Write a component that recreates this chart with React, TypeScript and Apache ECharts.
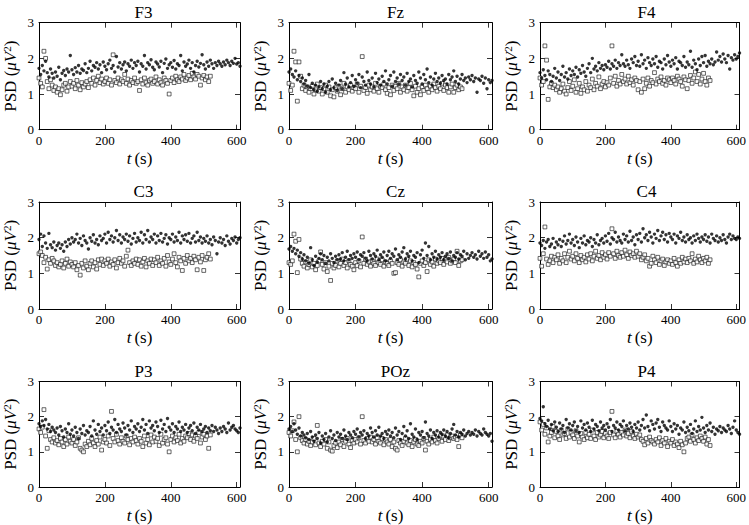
import React, { useEffect, useRef } from "react";
import * as echarts from "echarts";

// sampling step of the hand-read points (seconds)
const T_STEP = 5;

const X_TICKS = [0, 200, 400, 600];
const Y_TICKS = [0, 1, 2, 3];

const TITLES = ["F3", "Fz", "F4", "C3", "Cz", "C4", "P3", "POz", "P4"];

// ---- filled dots (t = 0..610 s) and open squares (t = 0..520 s) ----
const F3_DOTS = [
  1.72,1.55,1.80,1.65,1.92,1.60,1.48,1.70,1.58,1.45,
  1.62,1.50,1.75,1.40,1.58,1.66,1.52,1.70,1.62,2.08,
  1.68,1.55,1.74,1.62,1.80,1.58,1.70,1.66,1.85,1.60,
  1.72,1.92,1.65,1.80,1.75,1.88,1.70,1.82,1.60,1.90,
  1.78,1.68,1.85,1.95,1.72,1.80,1.62,2.05,1.76,1.88,
  1.70,1.82,1.90,1.65,1.85,1.78,1.95,1.72,1.88,1.80,
  1.92,1.62,1.85,1.78,2.08,1.70,1.88,1.82,1.96,1.75,
  1.68,1.90,1.84,1.76,1.92,1.60,1.86,1.98,1.72,1.82,
  1.88,1.75,1.94,1.70,1.85,1.80,2.08,1.65,1.90,1.78,
  1.84,1.95,1.72,1.88,1.62,1.80,1.92,1.76,1.86,2.10,
  1.82,1.70,1.90,1.78,1.95,1.85,1.72,1.88,1.80,1.92,
  1.85,1.78,1.90,1.82,1.95,1.88,1.80,1.92,1.86,2.00,
  1.84,1.88,1.78,
];
const F3_SQUARES = [
  1.45,1.30,1.20,2.20,2.00,1.35,1.15,1.40,1.25,1.10,
  1.20,1.05,1.15,0.98,1.12,1.25,1.30,1.08,1.20,1.35,
  1.22,1.30,1.15,1.38,1.25,1.12,1.32,1.20,1.28,1.35,
  1.18,1.40,1.30,1.45,1.25,1.38,1.50,1.32,1.42,1.28,
  1.35,1.45,1.30,1.40,1.25,2.10,1.38,1.32,1.45,1.28,
  1.40,1.35,1.55,1.30,1.42,1.25,1.38,1.32,1.45,1.30,
  1.35,1.10,1.40,1.28,1.45,1.32,1.25,1.38,1.42,1.30,
  1.35,1.48,1.28,1.40,1.32,1.25,1.45,1.38,1.30,1.00,
  1.38,1.45,1.32,1.50,1.40,1.35,1.48,1.42,1.55,1.38,
  1.45,1.52,1.40,1.58,1.48,1.42,1.55,1.50,1.25,1.45,
  1.52,1.40,1.48,1.35,1.50,
];

const FZ_DOTS = [
  1.62,1.70,1.55,1.48,1.65,1.40,1.52,1.35,1.45,1.28,
  1.38,1.22,1.55,1.18,1.30,1.12,1.25,1.08,1.20,1.35,
  1.15,1.28,1.05,1.22,1.35,1.12,1.42,1.18,1.30,1.10,
  1.25,1.38,1.15,1.60,1.28,1.45,1.20,1.32,1.52,1.22,
  1.40,1.30,1.55,1.18,1.48,1.35,1.25,1.62,1.38,1.28,
  1.45,1.20,1.58,1.32,1.42,1.25,1.50,1.35,1.65,1.28,
  1.40,1.52,1.22,1.62,1.35,1.45,1.28,1.55,1.38,1.48,
  1.25,1.58,1.35,1.42,1.20,1.52,1.38,1.30,1.62,1.45,
  1.28,1.55,1.40,1.70,1.32,1.48,1.25,1.42,1.58,1.35,
  1.45,1.30,1.52,1.38,1.42,1.28,1.55,1.40,1.48,1.65,
  1.35,1.50,1.28,1.42,1.55,1.38,1.45,1.32,1.48,1.40,
  1.52,1.35,1.45,1.05,1.42,1.38,1.50,1.30,1.45,1.15,
  1.40,1.32,1.38,
];
const FZ_SQUARES = [
  1.30,1.10,1.25,2.20,1.90,0.80,1.90,1.50,1.15,1.25,
  1.10,1.20,1.05,1.15,1.22,1.00,1.12,1.28,1.08,1.18,
  1.00,1.15,1.25,1.05,1.20,0.95,1.12,0.92,1.18,1.08,
  1.22,0.98,1.15,1.30,1.05,1.20,1.12,1.25,1.08,1.18,
  1.15,1.28,1.05,1.22,2.05,1.10,1.18,1.02,1.25,1.12,
  1.20,1.08,1.30,1.15,1.05,1.22,1.18,1.28,1.12,1.02,
  1.18,0.98,1.25,1.10,1.22,1.15,1.30,1.05,1.20,1.12,
  1.25,1.08,1.18,1.30,1.12,0.95,1.22,1.05,1.15,0.98,
  1.20,1.10,1.25,1.15,1.05,1.22,1.12,1.28,1.18,1.08,
  1.22,1.15,1.30,1.10,1.25,1.18,1.05,1.20,1.28,1.05,
  1.18,1.25,1.12,1.20,1.15,
];

const F4_DOTS = [
  1.60,1.45,1.68,1.52,1.40,1.65,1.55,1.35,1.50,1.72,
  1.45,1.62,1.38,1.55,1.78,1.48,1.60,1.42,1.70,1.52,
  1.65,1.55,1.75,1.48,1.68,1.58,1.80,1.62,1.50,1.72,
  1.85,1.60,2.00,1.70,1.78,1.65,1.88,1.72,1.80,1.68,
  1.82,1.75,1.92,1.70,1.85,1.78,1.95,1.72,1.88,1.80,
  2.10,1.85,1.78,1.95,1.82,1.72,1.98,1.88,2.05,1.80,
  1.92,1.78,2.10,1.85,1.95,1.72,2.02,1.88,1.80,1.98,
  1.85,2.05,1.75,1.92,1.88,1.70,1.98,1.82,2.08,1.90,
  1.78,1.95,1.85,2.02,1.70,1.92,1.88,1.80,2.05,1.75,
  1.90,1.82,2.20,1.75,1.95,1.85,1.68,1.98,1.80,2.05,
  1.88,2.08,1.78,1.92,1.85,1.98,1.82,1.90,2.18,1.95,
  2.05,1.90,2.12,1.98,1.88,2.08,1.70,2.02,1.95,2.10,
  1.98,2.05,2.15,
];
const F4_SQUARES = [
  1.45,1.25,1.35,2.35,1.95,0.85,1.20,1.30,1.18,1.25,
  1.12,1.20,1.05,1.15,1.28,1.08,1.00,1.18,1.35,1.10,
  1.22,1.40,1.05,1.15,1.30,1.02,1.20,1.12,1.35,1.08,
  1.25,1.18,1.42,1.12,1.30,1.22,1.48,1.15,1.28,1.35,
  1.20,1.32,1.25,1.45,2.35,1.30,1.50,1.22,1.38,1.28,
  1.55,1.35,1.42,1.28,1.50,1.32,1.40,1.25,1.45,1.38,
  1.12,1.35,1.05,1.42,1.15,1.30,1.45,1.22,1.38,1.32,
  1.60,1.28,1.42,1.35,1.48,1.30,1.38,1.25,1.45,1.40,
  1.32,1.45,1.38,1.28,1.50,1.42,1.35,1.22,1.48,1.40,
  1.15,1.38,1.52,1.30,1.45,1.62,1.35,1.55,1.28,1.42,
  1.58,1.35,1.25,1.45,1.38,
];

const C3_DOTS = [
  1.95,2.10,1.75,2.05,1.85,1.70,2.12,1.80,1.72,1.88,
  1.65,1.78,1.85,1.70,1.80,1.62,1.88,1.75,1.95,1.82,
  2.00,1.88,1.95,2.10,1.85,1.98,1.78,2.05,1.92,1.85,
  1.68,2.00,1.90,2.08,1.85,1.95,1.80,2.05,1.92,1.98,
  2.10,1.85,2.15,1.95,2.05,1.88,2.00,2.20,1.92,2.08,
  1.85,2.02,1.95,2.10,1.90,2.05,1.82,1.98,2.12,1.88,
  2.00,1.92,2.15,1.85,2.08,1.95,2.20,1.88,2.02,1.95,
  2.10,1.85,2.05,1.92,2.12,1.88,1.98,2.08,1.82,2.00,
  1.95,2.10,1.88,2.02,1.92,2.15,1.85,2.05,1.95,2.08,
  1.90,2.12,1.85,1.98,2.05,1.88,2.15,1.92,2.02,1.85,
  1.98,1.90,2.05,1.85,1.95,1.80,2.02,1.92,1.55,1.88,
  2.00,1.85,1.95,1.78,2.05,1.90,1.82,1.98,1.92,2.02,
  1.85,1.95,2.00,
];
const C3_SQUARES = [
  1.55,1.60,1.50,1.30,1.45,1.12,1.38,1.28,1.42,1.35,
  1.22,1.30,1.18,1.25,1.35,1.15,1.28,1.40,1.20,1.32,
  1.25,1.18,1.30,1.10,1.22,0.95,1.28,1.15,1.35,1.20,
  1.10,1.28,1.35,1.18,1.30,1.12,1.38,1.25,1.40,1.22,
  1.35,1.28,1.40,1.20,1.32,1.25,1.38,1.15,1.30,1.42,
  1.28,1.35,1.20,1.48,1.65,1.30,1.22,1.35,1.28,1.40,
  1.25,1.38,1.20,1.32,1.42,1.18,1.35,1.28,1.40,1.22,
  1.38,1.30,1.45,1.22,1.35,1.28,1.42,1.20,1.50,1.32,
  1.25,1.40,1.55,1.30,1.18,1.45,1.35,1.08,1.42,1.28,
  1.50,1.35,1.42,1.30,1.48,1.38,1.10,1.45,1.32,1.50,
  1.08,1.38,1.45,1.55,1.40,
];

const CZ_DOTS = [
  1.68,1.75,1.62,1.70,1.55,1.65,1.48,1.58,1.40,1.52,
  1.35,1.45,1.28,1.72,1.38,1.22,1.48,1.32,1.42,1.55,
  1.38,1.50,1.28,1.45,1.35,1.55,1.42,1.30,1.48,1.38,
  1.52,1.40,1.58,1.35,1.45,1.62,1.38,1.50,1.42,1.55,
  1.45,1.60,1.38,1.52,1.48,1.58,1.42,1.35,1.62,1.50,
  1.40,1.55,1.48,1.65,1.38,1.52,1.45,1.60,1.35,1.50,
  1.62,1.42,1.55,1.48,1.68,1.38,1.52,1.45,1.60,1.72,
  1.40,1.55,1.48,1.62,1.35,1.50,1.45,1.58,1.30,1.52,
  1.65,1.42,1.85,1.50,1.75,1.38,1.55,1.45,1.62,1.40,
  1.52,1.45,1.58,1.38,1.48,1.55,1.42,1.60,1.35,1.50,
  1.45,1.58,1.40,1.52,1.48,1.62,1.38,1.55,1.42,1.50,
  1.58,1.45,1.52,1.40,1.62,1.48,1.55,1.42,1.60,1.45,
  1.52,1.35,1.40,
];
const CZ_SQUARES = [
  1.30,1.25,1.35,2.10,1.90,1.02,1.95,1.40,1.28,1.20,
  1.32,1.15,1.25,1.38,1.18,1.28,1.10,1.22,1.35,1.60,
  1.25,1.12,1.30,1.05,1.20,0.80,1.28,1.15,1.22,1.35,
  1.18,1.28,1.40,1.22,1.30,1.15,1.35,1.25,1.20,1.10,
  1.30,1.22,1.35,1.18,2.02,1.28,1.40,1.25,1.32,1.20,
  1.35,1.28,1.22,1.40,1.30,1.25,1.38,1.20,1.32,1.28,
  1.22,1.35,1.28,1.00,1.02,1.30,1.25,1.38,1.20,1.32,
  1.28,1.40,1.22,1.35,1.18,1.30,1.25,1.12,0.90,1.28,
  1.35,1.22,1.30,1.05,1.38,1.25,1.32,1.20,1.40,1.28,
  1.35,1.30,1.42,1.25,1.38,1.32,1.45,1.28,1.35,1.40,
  1.30,1.62,1.22,1.35,1.38,
];

const C4_DOTS = [
  1.85,1.78,1.92,1.70,1.88,1.95,1.75,1.82,1.98,1.72,
  1.88,1.80,1.95,1.75,1.90,2.05,1.82,1.92,2.10,1.85,
  1.95,1.78,2.02,1.88,1.72,1.98,1.85,2.05,1.80,1.92,
  1.88,2.00,1.75,1.95,1.85,2.08,1.80,1.92,1.98,1.85,
  2.05,1.90,2.12,1.82,2.00,1.95,2.15,1.88,2.02,1.92,
  1.85,2.10,1.95,2.05,1.88,2.18,1.92,2.02,1.80,2.08,
  1.95,2.12,1.88,2.25,2.00,2.08,1.92,2.15,2.02,1.85,
  2.10,1.98,2.20,1.92,2.05,2.15,1.95,2.08,1.88,2.12,
  2.02,1.95,2.10,1.85,2.05,1.98,2.15,1.92,2.02,1.88,
  2.08,1.95,2.00,1.85,2.05,1.92,2.10,1.98,1.88,2.02,
  1.95,2.08,1.90,2.02,1.85,2.10,1.98,1.92,2.05,1.88,
  2.00,1.92,2.08,1.95,1.85,2.02,2.10,1.95,2.05,1.98,
  1.95,2.02,1.98,
];
const C4_SQUARES = [
  1.42,1.20,1.55,2.30,1.40,1.25,1.35,1.48,1.30,1.45,
  1.38,1.52,1.28,1.42,1.35,1.55,1.30,1.45,1.62,1.40,
  1.48,1.35,1.55,1.42,1.30,1.50,1.38,1.45,1.32,1.52,
  1.40,1.55,1.35,1.48,1.62,1.42,1.50,1.38,1.58,1.45,
  1.52,1.40,1.58,1.48,2.25,1.55,1.42,1.62,1.50,1.45,
  1.58,1.48,1.65,1.52,1.42,1.60,1.50,1.55,1.45,1.62,
  1.48,1.55,1.38,1.45,1.52,1.35,1.42,1.20,1.28,1.48,
  1.38,1.30,1.45,1.25,1.35,1.40,1.22,1.32,1.38,1.28,
  1.35,1.25,1.42,1.30,1.20,1.38,1.28,1.45,1.32,1.40,
  1.30,1.42,1.35,1.55,1.28,1.40,1.32,1.48,1.38,1.30,
  1.42,1.35,1.45,1.28,1.38,
];

const P3_DOTS = [
  1.80,1.72,1.88,1.75,1.92,1.65,1.78,1.58,1.70,1.62,
  1.55,1.68,1.48,1.72,1.60,1.42,1.65,1.55,1.80,1.50,
  1.62,1.45,1.70,1.55,1.38,1.65,1.52,1.75,1.48,1.60,
  1.55,1.72,1.45,1.88,1.62,1.50,1.78,1.58,1.68,1.48,
  1.75,1.60,1.85,1.52,1.70,1.62,1.92,1.55,1.78,1.65,
  1.58,1.82,1.68,1.48,1.75,1.62,1.88,1.55,1.72,1.65,
  1.80,1.58,1.70,1.92,1.62,1.78,1.52,1.88,1.68,1.75,
  1.60,1.85,1.72,1.55,1.90,1.65,1.78,1.58,1.95,1.70,
  1.62,1.80,1.55,1.72,1.65,1.85,1.58,1.70,1.62,1.78,
  1.55,1.68,1.75,1.60,1.82,1.52,1.70,1.62,1.78,1.58,
  1.65,1.72,1.55,1.68,1.60,1.75,1.58,1.70,1.62,1.52,
  1.68,1.58,1.72,1.65,1.55,1.82,1.62,1.70,1.75,1.65,
  1.60,1.55,1.68,
];
const P3_SQUARES = [
  1.65,1.55,1.70,2.20,1.45,1.10,1.60,1.35,1.28,1.40,
  1.25,1.32,1.20,1.38,1.28,1.15,1.35,1.22,1.42,1.30,
  1.25,1.35,1.18,1.28,1.40,1.10,1.05,1.00,1.22,1.15,
  1.30,1.20,1.38,1.25,1.15,1.32,1.22,1.42,1.05,1.28,
  1.35,1.25,1.45,1.18,2.15,1.38,1.28,1.50,1.32,1.22,
  1.40,1.30,1.25,1.45,1.35,1.20,1.38,1.28,1.42,1.32,
  1.22,1.38,1.30,1.15,1.45,1.25,1.35,1.20,1.48,1.28,
  1.42,1.30,1.38,1.18,1.50,1.25,1.35,1.40,1.22,1.00,
  1.35,1.45,1.28,1.40,1.32,1.50,1.25,1.38,1.30,1.45,
  1.40,1.52,1.35,1.48,1.30,1.45,1.38,1.55,1.25,1.42,
  1.50,1.35,1.45,1.10,1.48,
];

const POZ_DOTS = [
  1.65,1.72,1.58,1.80,1.62,1.50,1.68,1.45,1.55,1.48,
  1.40,1.52,1.35,1.58,1.42,1.30,1.48,1.38,1.55,1.25,
  1.45,1.35,1.52,1.28,1.42,1.60,1.38,1.48,1.32,1.55,
  1.42,1.50,1.38,1.62,1.45,1.35,1.55,1.48,1.40,1.58,
  1.50,1.65,1.42,1.55,1.48,1.60,1.38,1.52,1.45,1.68,
  1.55,1.42,1.60,1.48,1.70,1.45,1.52,1.38,1.58,1.50,
  1.62,1.45,1.55,1.40,1.68,1.48,1.58,1.35,1.52,1.72,
  1.45,1.60,1.38,1.80,1.50,1.42,1.65,1.35,1.55,1.48,
  1.58,1.40,1.85,1.52,1.45,1.62,1.38,1.55,1.48,1.60,
  1.42,1.55,1.50,1.62,1.45,1.58,1.40,1.52,1.65,1.78,
  1.48,1.58,1.42,1.55,1.50,1.62,1.45,1.52,1.58,1.48,
  1.55,1.50,1.62,1.45,1.58,1.52,1.48,1.65,1.55,1.50,
  1.45,1.52,1.30,
];
const POZ_SQUARES = [
  1.55,1.45,1.60,1.85,1.35,1.00,2.00,1.40,1.32,1.25,
  1.35,1.22,1.30,1.18,1.28,1.38,1.20,1.75,1.25,1.15,
  1.30,1.22,1.35,1.10,1.28,1.05,1.02,1.18,1.25,1.12,
  1.28,1.20,1.35,1.15,1.30,1.38,1.22,1.12,1.32,1.25,
  1.35,1.28,1.40,1.22,2.00,1.32,1.25,1.38,1.30,1.42,
  1.28,1.35,1.22,1.40,1.30,1.25,1.38,1.20,1.35,1.28,
  1.22,1.35,1.15,1.28,1.10,1.05,1.32,1.25,1.18,1.30,
  1.38,1.25,1.20,1.32,1.15,1.28,1.35,1.22,1.18,1.30,
  1.25,1.38,1.05,1.30,1.22,1.35,1.28,1.42,1.32,1.25,
  1.38,1.45,1.30,1.42,1.35,1.48,1.32,1.40,1.45,1.38,
  1.42,1.35,1.15,1.48,1.40,
];

const P4_DOTS = [
  1.95,1.88,2.28,1.80,1.72,1.90,1.65,1.78,1.60,1.85,
  1.70,1.58,1.82,1.65,1.75,1.55,1.92,1.68,1.80,1.62,
  1.75,1.85,1.60,1.72,1.55,1.88,1.68,1.78,1.62,1.82,
  1.70,1.58,1.90,1.65,1.78,1.72,1.60,1.85,1.68,1.75,
  1.62,1.80,1.70,1.92,1.58,1.75,1.68,1.85,1.62,1.78,
  1.72,1.88,1.60,1.75,1.65,1.82,1.70,1.58,1.78,1.68,
  1.85,1.62,1.75,1.92,1.68,2.05,1.72,1.60,1.88,1.78,
  1.65,1.82,1.92,1.70,1.58,1.85,1.75,1.68,1.62,1.88,
  1.72,1.58,1.80,1.65,1.75,1.50,1.68,1.62,1.85,1.55,
  1.70,1.60,1.78,1.52,1.65,1.88,1.58,1.72,1.62,1.98,
  1.68,1.55,1.75,1.62,1.82,1.58,1.70,1.50,1.65,1.60,
  1.72,1.55,1.68,1.62,1.58,1.75,1.65,1.52,1.70,1.88,
  1.62,1.55,1.50,
];
const P4_SQUARES = [
  1.85,1.62,1.78,1.50,1.68,1.28,1.45,1.55,1.72,1.40,
  1.58,1.45,1.35,1.62,1.48,1.52,1.38,1.65,1.42,1.55,
  1.48,1.38,1.60,1.45,1.28,1.52,1.42,1.35,1.55,1.40,
  1.50,1.38,1.62,1.45,1.35,1.55,1.42,1.48,1.58,1.40,
  1.52,1.45,1.38,1.55,2.15,1.48,1.40,1.58,1.50,1.42,
  1.55,1.48,1.62,1.45,1.52,1.40,1.58,1.45,1.38,1.50,
  1.42,1.48,1.35,1.30,1.20,1.38,1.25,1.42,1.32,1.28,
  1.22,1.35,1.28,1.40,1.18,1.32,1.25,1.38,1.15,1.30,
  1.25,1.35,1.18,1.28,1.22,1.12,1.30,1.20,1.00,1.25,
  1.38,1.42,1.30,1.48,1.35,1.25,1.40,1.32,1.45,1.38,
  1.30,1.42,1.22,1.35,1.18,
];

const DOTS = [F3_DOTS, FZ_DOTS, F4_DOTS, C3_DOTS, CZ_DOTS, C4_DOTS, P3_DOTS, POZ_DOTS, P4_DOTS];
const SQUARES = [F3_SQUARES, FZ_SQUARES, F4_SQUARES, C3_SQUARES, CZ_SQUARES, C4_SQUARES, P3_SQUARES, POZ_SQUARES, P4_SQUARES];

// ---- layout ----
const COL_LEFT = [37, 289, 540];
const ROW_TOP = [22.7, 202, 381.5];
const GRID_W = 203;
const GRID_H = 107;
const FONT = "Liberation Serif";

function buildOption() {
  const grid: any[] = [];
  const xAxis: any[] = [];
  const yAxis: any[] = [];
  const series: any[] = [];
  const title: any[] = [];
  const tickStyle = { lineStyle: { color: "#000", width: 0.8 } };
  const lineStyle = { lineStyle: { color: "#000", width: 1 } };

  TITLES.forEach((name, i) => {
    const row = Math.floor(i / 3);
    const col = i % 3;
    const left = COL_LEFT[col];
    const top = ROW_TOP[row];
    grid.push({ left, top, width: GRID_W, height: GRID_H, containLabel: false });
    title.push({
      text: name,
      left: left + GRID_W / 2,
      top: top - 24,
      textAlign: "center",
      textStyle: { fontFamily: FONT, fontSize: 17, fontWeight: "normal", color: "#000" },
    });
    const xBase = {
      gridIndex: i,
      type: "value",
      min: 0,
      max: 610,
      interval: 200,
      splitLine: { show: false },
      axisLine: { onZero: false, ...lineStyle },
      axisTick: { inside: true, length: 5, ...tickStyle },
    };
    xAxis.push({
      ...xBase,
      position: "bottom",
      name: "{i|t} {n|(s)}",
      nameLocation: "middle",
      nameGap: 20,
      nameTextStyle: {
        fontFamily: FONT,
        color: "#000",
        rich: {
          i: { fontFamily: FONT, fontSize: 17, fontStyle: "italic", color: "#000" },
          n: { fontFamily: FONT, fontSize: 17, color: "#000" },
        },
      },
      axisLabel: {
        margin: 4,
        fontFamily: FONT,
        fontSize: 13,
        color: "#000",
        formatter: (v: number) => (X_TICKS.indexOf(v) >= 0 ? String(v) : ""),
      },
    });
    xAxis.push({ ...xBase, position: "top", axisLabel: { show: false } });

    const yBase = {
      gridIndex: i,
      type: "value",
      min: Y_TICKS[0],
      max: Y_TICKS[Y_TICKS.length - 1],
      interval: 1,
      splitLine: { show: false },
      axisLine: { onZero: false, ...lineStyle },
      axisTick: { inside: true, length: 5, ...tickStyle },
    };
    yAxis.push({
      ...yBase,
      position: "left",
      name: "{n|PSD (}{i|μV}{s|2}{n|)}",
      nameLocation: "middle",
      nameGap: 19,
      nameTextStyle: {
        fontFamily: FONT,
        color: "#000",
        rich: {
          n: { fontFamily: FONT, fontSize: 17, color: "#000", lineHeight: 19 },
          i: { fontFamily: FONT, fontSize: 17, fontStyle: "italic", color: "#000", lineHeight: 19 },
          s: { fontFamily: FONT, fontSize: 11, color: "#000", verticalAlign: "top", lineHeight: 11 },
        },
      },
      axisLabel: { margin: 5, fontFamily: FONT, fontSize: 13, color: "#000" },
    });
    yAxis.push({ ...yBase, position: "right", axisLabel: { show: false } });

    series.push({
      type: "scatter",
      xAxisIndex: 2 * i,
      yAxisIndex: 2 * i,
      symbol: "rect",
      symbolSize: 3.8,
      itemStyle: { color: "#fff", borderColor: "#111", borderWidth: 0.8 },
      data: SQUARES[i].map((v, k) => [k * T_STEP, v]),
      silent: true,
    });
    series.push({
      type: "scatter",
      xAxisIndex: 2 * i,
      yAxisIndex: 2 * i,
      symbol: "circle",
      symbolSize: 3.4,
      itemStyle: { color: "#000" },
      data: DOTS[i].map((v, k) => [k * T_STEP, v]),
      silent: true,
    });
  });

  return {
    animation: false,
    backgroundColor: "#fff",
    textStyle: { fontFamily: FONT },
    title,
    grid,
    xAxis,
    yAxis,
    series,
  };
}

export default function App() {
  const ref = useRef<HTMLDivElement>(null);
  useEffect(() => {
    document.body.style.margin = "0";
    if (!ref.current) return;
    const chart = echarts.init(ref.current, undefined, { renderer: "svg" });
    chart.setOption(buildOption() as any);
    return () => chart.dispose();
  }, []);
  return <div ref={ref} style={{ width: 749, height: 525 }} />;
}
